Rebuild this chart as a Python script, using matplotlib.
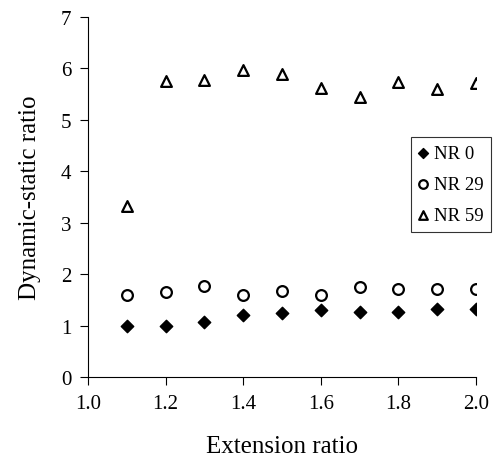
import matplotlib
matplotlib.use("Agg")
import matplotlib.pyplot as plt

plt.rcParams['font.family'] = ['Liberation Serif', 'DejaVu Serif']

extension = [1.1, 1.2, 1.3, 1.4, 1.5, 1.6, 1.7, 1.8, 1.9, 2.0]
nr0 = [1.00, 1.00, 1.06, 1.20, 1.25, 1.30, 1.27, 1.27, 1.33, 1.33]
nr29 = [1.60, 1.65, 1.77, 1.60, 1.68, 1.60, 1.75, 1.72, 1.72, 1.72]
nr59 = [3.33, 5.75, 5.78, 5.97, 5.90, 5.62, 5.45, 5.73, 5.60, 5.72]
labels = ["NR 0", "NR 29", "NR 59"]

fig = plt.figure(figsize=(4.93, 4.60), dpi=100)
ax = fig.add_axes([88/493, 1-378/460, (476-88)/493, (378-18)/460])

ax.scatter(extension, nr0, marker='D', s=40, color='black', label=labels[0], zorder=3)
ax.scatter(extension, nr29, marker='o', s=60, facecolors='white', edgecolors='black', linewidths=1.6, label=labels[1], zorder=3)
ax.scatter(extension, nr59, marker='^', s=60, facecolors='white', edgecolors='black', linewidths=1.6, label=labels[2], zorder=3)

ax.set_xlim(1.0, 2.0)
ax.set_ylim(0, 7)
ax.set_xticks([1.0, 1.2, 1.4, 1.6, 1.8, 2.0])
ax.set_xticklabels(["1.0", "1.2", "1.4", "1.6", "1.8", "2.0"])
ax.set_yticks(range(0, 8))
ax.spines['top'].set_visible(False)
ax.spines['right'].set_visible(False)
ax.tick_params(direction='out', length=6, labelsize=15, width=0.8, pad=6)
ax.set_xlabel("Extension ratio", fontsize=18, labelpad=16)
ax.set_ylabel("Dynamic-static ratio", fontsize=18, labelpad=14)

leg = fig.legend(loc='upper left', bbox_to_anchor=(411/493, 1-138/460), fontsize=13.5,
                 frameon=True, fancybox=False, edgecolor='black', handletextpad=0.3,
                 borderpad=0.4, labelspacing=0.75, handlelength=0.5, borderaxespad=0,
                 markerscale=0.8)
leg.get_frame().set_linewidth(0.8)

fig.savefig("out.png", dpi=100)
